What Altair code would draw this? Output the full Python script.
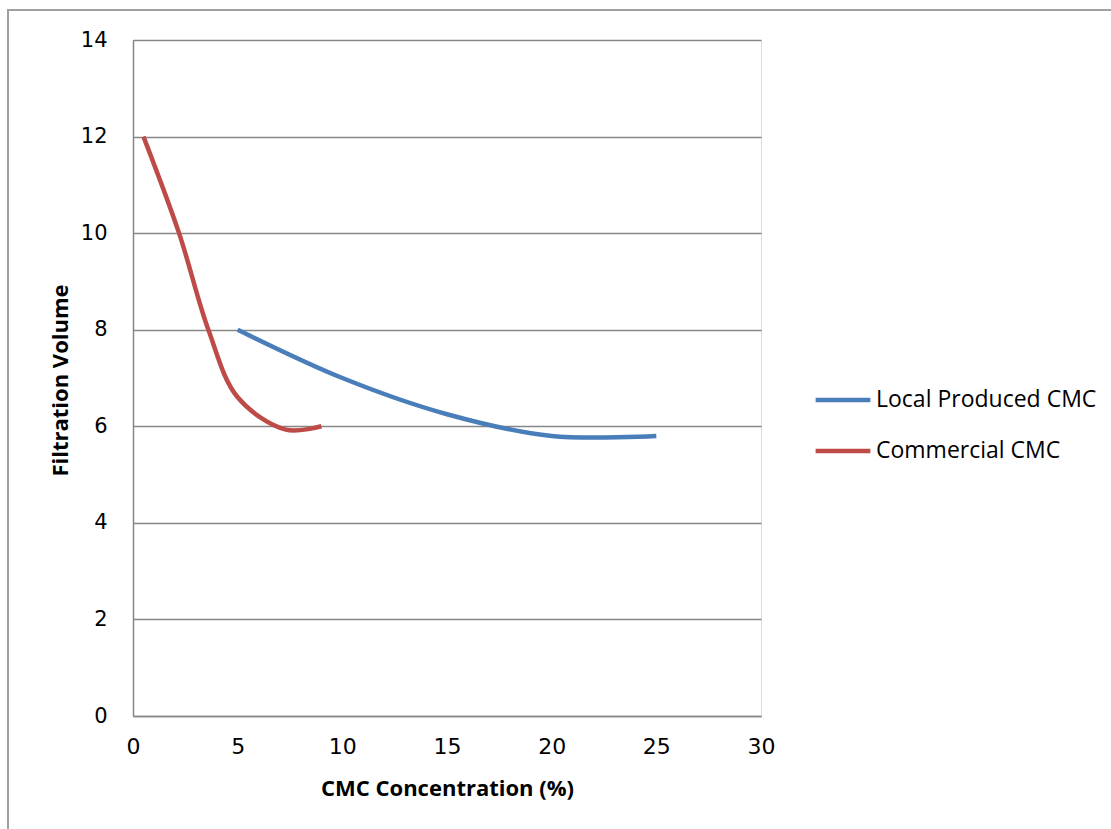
import altair as alt
import pandas as pd

local_x = [5, 10, 15, 20, 25]
local_y = [8.0, 7.0, 6.25, 5.8, 5.8]
comm_x = [0.5, 2.2, 3.6, 5, 7.3, 9]
comm_y = [12.0, 10.0, 8.0, 6.6, 5.93, 6.0]
series_names = ["Local Produced CMC", "Commercial CMC"]
series_colors = ["#4A7EBB", "#BE4B48"]

rows = []
for x, y in zip(local_x, local_y):
    rows.append({"x": x, "y": y, "s": series_names[0]})
for x, y in zip(comm_x, comm_y):
    rows.append({"x": x, "y": y, "s": series_names[1]})
df = pd.DataFrame(rows)

W, H = 628, 676

lines = alt.Chart(df).mark_line(interpolate="catmull-rom", strokeWidth=4.5).encode(
    x=alt.X("x:Q", scale=alt.Scale(domain=[0, 30], nice=False),
            axis=alt.Axis(values=[0, 5, 10, 15, 20, 25, 30], grid=False, ticks=False,
                          domainColor="#868686", domainWidth=1.5, labelFlush=False,
                          labelFont="DejaVu Sans", labelFontSize=22, labelColor="#000",
                          labelPadding=20,
                          title="CMC Concentration (%)", titleFont="Open Sans",
                          titleFontSize=22, titleFontWeight="bold", titleColor="#000",
                          titleBaseline="middle", titleX=314, titleY=72)),
    y=alt.Y("y:Q", scale=alt.Scale(domain=[0, 14], nice=False),
            axis=alt.Axis(values=[0, 2, 4, 6, 8, 10, 12, 14], grid=True, gridColor="#868686",
                          gridWidth=1.5, ticks=False, domainColor="#868686", domainWidth=1.5,
                          labelFlush=False,
                          labelFont="DejaVu Sans", labelFontSize=21, labelColor="#000",
                          labelPadding=26,
                          title="Filtration Volume", titleFont="Open Sans",
                          titleFontSize=22, titleFontWeight="bold", titleColor="#000",
                          titleAngle=270, titleBaseline="middle", titleAlign="center",
                          titleX=-73, titleY=340)),
    color=alt.Color("s:N", scale=alt.Scale(domain=series_names, range=series_colors),
                    legend=alt.Legend(title=None, orient="none", legendX=680, legendY=330,
                                      symbolType="stroke", symbolSize=3000,
                                      symbolStrokeWidth=4.5, labelFont="Open Sans",
                                      labelFontSize=23, labelColor="#000", rowPadding=9,
                                      labelOffset=3, labelLimit=0)),
)

frame_v = alt.Chart().mark_rule(color="#A0A0A0", strokeWidth=2).encode(
    x=alt.value(-125), y=alt.value(-30), y2=alt.value(800))
frame_h = alt.Chart().mark_rule(color="#A0A0A0", strokeWidth=2).encode(
    x=alt.value(-126), x2=alt.value(990), y=alt.value(-30))

chart = alt.layer(frame_v, frame_h, lines).properties(
    width=W, height=H,
    autosize=alt.AutoSizeParams(type="none"),
    padding={"left": 133, "top": 40, "right": 350, "bottom": 113},
).configure_view(stroke=None).configure(background="white")

chart.save("out.html", embed_options={"renderer": "svg", "actions": False})
